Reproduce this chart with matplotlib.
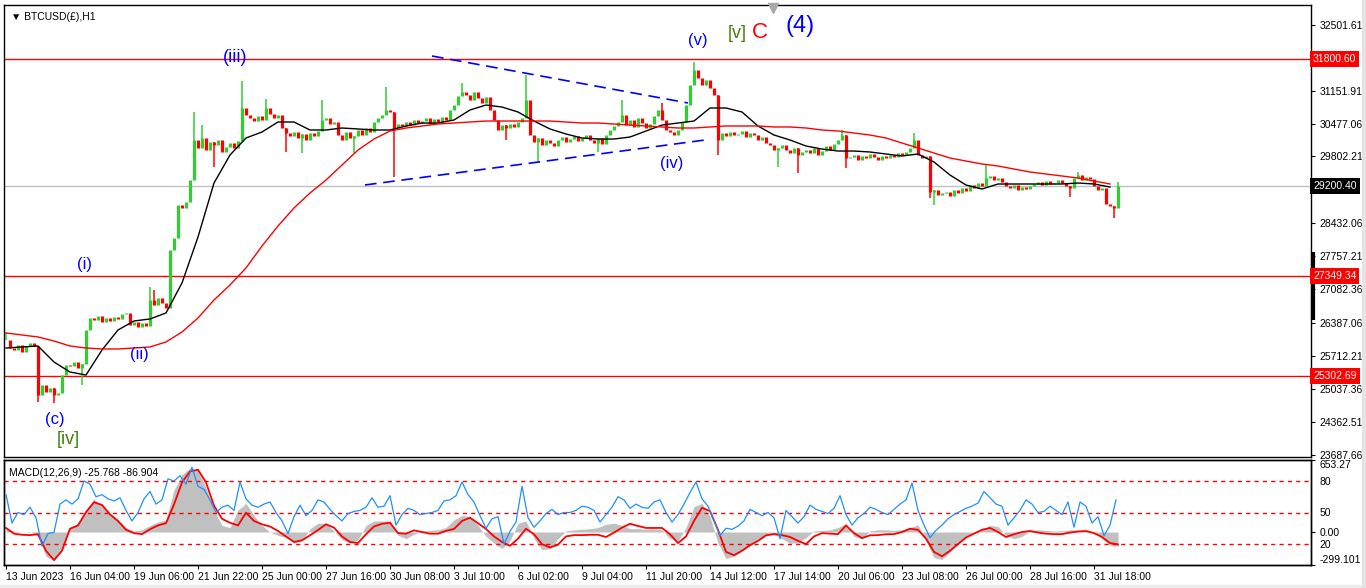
import matplotlib
matplotlib.use("Agg")
import matplotlib.pyplot as plt
import numpy as np
from matplotlib.transforms import blended_transform_factory
from matplotlib.patches import Rectangle

# -----------------------------
# Data read off the chart (H1 bars, sampled every 4 bars)
# -----------------------------
closes = [
    26040, 25876, 25835, 25937, 25794, 25917, 25978, 25917, 24912,
    25117, 24974, 25056, 24912, 24953, 25322, 25527,
    25507, 25589, 25466, 25548, 26245, 26491,
    26450, 26532, 26409, 26491, 26430, 26512, 26471, 26573, 26594,
    26347, 26409, 26307, 26389, 26327, 26860,
    26757, 26901, 26798, 26696, 27885, 28131, 28807, 28746, 28869, 29320, 30140,
    29976, 30181, 29935, 30099, 30037, 30140, 29894, 29996, 30078, 29976, 30119,
    30796, 30652, 30591, 30529, 30632, 30550, 30796, 30673, 30591, 30652,
    30386, 30283, 30222, 30304, 30181, 30263, 30140,
    30283, 30222, 30324, 30550, 30591, 30468, 30509,
    30242, 30140, 30304, 30181, 30222, 30345, 30242, 30386, 30304,
    30509, 30591, 30652, 30755, 30714, 30386,
    30468, 30427, 30509, 30447, 30550, 30488, 30529, 30591,
    30468, 30570, 30509, 30611, 30550, 30755, 30857, 31042, 31124,
    31062, 30960, 31124, 31001, 30898, 31021,
    30755, 30550, 30345, 30447, 30386, 30468, 30407, 30509, 30591,
    30960, 30242, 30099, 30181, 30037, 30140, 30078, 30017,
    30140, 30201, 30099, 30160, 30222, 30119, 30181, 30242,
    30140, 30078, 30181, 30058, 30242, 30345, 30427, 30509, 30652,
    30447, 30550, 30407, 30591, 30488, 30386,
    30468, 30632, 30755, 30550, 30345, 30304, 30242, 30345,
    30509, 30857, 31267, 31575, 31411, 31267, 31370, 31206, 31062, 30140,
    30283, 30222, 30304, 30242, 30263, 30324, 30201, 30283,
    30242, 30140, 30201, 30078, 30037, 29935, 29976,
    30037, 29935, 29873, 29976, 29832, 29894,
    29935, 29873, 29976, 29832, 29914, 30017, 29935, 30058, 30140, 30242, 29771,
    29791, 29832, 29730, 29812, 29771, 29853, 29791, 29730, 29812, 29771, 29832, 29791,
    29873, 29832, 29894, 29976, 30140, 29832, 29771, 29812, 29074,
    29115, 29012, 29053, 29074, 28992, 29115, 29053, 29156, 29094,
    29217, 29156, 29258, 29197, 29361, 29402, 29320, 29361, 29279,
    29197, 29156, 29217, 29115, 29176, 29135, 29197,
    29238, 29279, 29217, 29299, 29238, 29258, 29320, 29258, 29197,
    29156, 29361, 29422, 29320, 29381, 29340, 29197, 29115, 29156,
    28828, 28787, 28746, 29200,
]

# long wicks: sample index and the wick extreme
spike_bar = [0, 8, 12, 19, 36, 37, 47, 49, 52, 59, 65, 70, 74, 79, 87, 95, 97,
             114, 125, 130, 133, 148, 154, 164, 172, 178, 193, 198, 209, 210,
             227, 231, 232, 245, 266, 268, 277, 278]
spike_price = [26204, 24769, 24748, 25117, 27127, 27065, 30714, 30447, 29586,
               31350, 30980, 29894, 29873, 30960, 29873, 31227, 29381, 31308,
               30140, 31472, 29689, 29894, 30960, 30898, 31739, 29832, 29586,
               29463, 30345, 29566, 30283, 28951, 28807, 29627, 28971, 29484,
               28541, 29279]

# moving averages (every 16 bars)
black_ma = [
    25876, 25897, 25917, 25589, 25384, 25322, 25835, 26245, 26430, 26471,
    26594, 27209, 28152, 29258, 29832, 30181, 30304, 30509, 30509, 30345,
    30345, 30386, 30366, 30345, 30345, 30427, 30488, 30488, 30550, 30755,
    30857, 30816, 30714, 30529, 30366, 30263, 30181, 30160, 30160, 30201,
    30324, 30447, 30488, 30529, 30796, 30796, 30714, 30427, 30242, 30140,
    30017, 29955, 29914, 29914, 29894, 29853, 29812, 29853, 29689, 29422,
    29217, 29135, 29238, 29238, 29238, 29238, 29238, 29258, 29238, 29176,
]
red_ma = [
    26184, 26143, 26102, 26020, 25917, 25876, 25856, 25856, 25876, 25897,
    26000, 26204, 26491, 26860, 27168, 27516, 27967, 28377, 28746, 29053,
    29320, 29627, 29935, 30160, 30324, 30386, 30427, 30468, 30488, 30509,
    30529, 30529, 30529, 30529, 30529, 30509, 30488, 30488, 30468, 30447,
    30427, 30407, 30386, 30386, 30407, 30427, 30427, 30427, 30407, 30407,
    30386, 30345, 30324, 30283, 30242, 30181, 30078, 29976, 29873, 29771,
    29709, 29648, 29607, 29545, 29484, 29443, 29402, 29361, 29299, 29238,
]

# oscillator (0-100 scale, every 6 bars)
osc = [
    67, 40, 50, 48, 55, 45, 18, 30, 31, 58,
    62, 58, 63, 80, 77, 65, 67, 63, 61, 64,
    52, 42, 50, 63, 70, 58, 62, 82, 80, 85,
    77, 93, 75, 72, 62, 50, 55, 57, 52, 79,
    63, 57, 55, 58, 60, 50, 42, 30, 46, 57,
    47, 52, 62, 60, 53, 47, 42, 49, 51, 52,
    55, 64, 55, 56, 66, 38, 48, 54, 52, 48,
    49, 50, 52, 61, 62, 66, 79, 67, 60, 47,
    35, 44, 46, 20, 32, 41, 75, 45, 36, 42,
    49, 53, 48, 50, 50, 52, 56, 55, 52, 41,
    48, 55, 65, 62, 54, 58, 55, 54, 60, 62,
    50, 41, 48, 58, 69, 79, 63, 56, 42, 28,
    35, 34, 37, 42, 53, 50, 47, 50, 45, 25,
    52, 46, 40, 46, 57, 53, 51, 49, 54, 66,
    48, 38, 45, 49, 55, 53, 50, 48, 53, 58,
    62, 78, 52, 38, 26, 33, 38, 44, 48, 51,
    54, 56, 59, 70, 64, 58, 56, 38, 45, 52,
    62, 58, 50, 51, 56, 52, 48, 60, 36, 60,
    56, 40, 46, 28, 38, 62,
]

# MACD histogram and signal (every 8 bars)
macd_hist = [
    30, 10, 0, 5, -40, -220, -260, -150, 40, 80,
    200, 300, 240, 170, 110, 40, 10, 20, 60, 90,
    110, 380, 520, 580, 560, 400, 200, 60, 40, 200,
    260, 150, 60, 0, -30, -50, -100, -80, 30, 80,
    80, 10, -70, -100, -70, 60, 100, 100, 100, -30,
    -60, -20, 10, 15, 20, 40, 110, 150, 140, 60,
    -40, -100, -150, -80, 80, 100, -60, -160, -150, -60,
    10, 20, 25, 30, 40, 70, 80, 60, 30, 30,
    25, 30, 20, -60, -80, 40, 230, 260, 140, -100,
    -240, -220, -170, -120, -60, -30, -20, -60, -100, -100,
    -50, 10, 15, 20, 40, 75, -40, -60, 10, 20,
    20, 15, 20, 40, 65, -80, -230, -250, -180, -100,
    -40, 0, 20, 60, 50, -30, -60, -40, 10, 20,
    15, 10, 10, 20, 15, 10, 5, -60, -120, -130,
]
macd_signal = [
    37, -15, -25, -28, -20, -170, -255, -170, 30, 60,
    180, 270, 245, 160, 100, 20, -10, -19, 25, 60,
    80, 250, 450, 550, 565, 450, 240, 120, 84, 60,
    175, 100, 70, 50, 10, -40, -90, -75, -30, 18,
    70, 40, -40, -90, -100, -20, 50, 75, 84, -10,
    -15, 15, 0, -15, -15, 10, 28, 100, 130, 80,
    28, -40, -90, -125, -60, 30, -20, -110, -140, -115,
    -40, -28, -28, -25, -25, -45, -5, 40, 75, 55,
    37, 37, 37, -20, -100, -40, 100, 220, 190, 20,
    -180, -210, -170, -120, -80, -30, -19, -28, -45, -80,
    -110, -40, -10, -15, -19, 60, -10, -55, -30, -28,
    -20, -19, 0, 30, 20, -60, -180, -220, -170, -110,
    -50, -15, 20, 37, 0, -45, -20, 0, 9, -5,
    -15, -19, -19, -5, 5, 9, -10, -45, -100, -112,
]

price_ticks = [32501.61, 31151.91, 30477.06, 29802.21, 28432.06,
               27757.21, 27082.36, 26387.06, 25712.21, 25037.36, 24362.51,
               23687.66]
level_lines = [31800.60, 27349.34, 25302.69]
bid_price = 29200.40

date_labels = ["13 Jun 2023", "16 Jun 04:00", "19 Jun 06:00", "21 Jun 22:00",
               "25 Jun 00:00", "27 Jun 16:00", "30 Jun 08:00", "3 Jul 10:00",
               "6 Jul 02:00", "9 Jul 04:00", "11 Jul 20:00", "14 Jul 12:00",
               "17 Jul 14:00", "20 Jul 06:00", "23 Jul 08:00", "26 Jul 00:00",
               "28 Jul 16:00", "31 Jul 18:00"]

# trendlines (bar, price)
upper_trend = [(426, 31862), (682, 30899)]
lower_trend = [(359, 29218), (699, 30140)]

# wave labels: text, bar, price, colour, size
wave_labels = [
    ("(iii)", 229, 31821, "#0000ff", 13),
    ("(i)", 78, 27598, "#0000ff", 12),
    ("(ii)", 133, 25753, "#0000ff", 12),
    ("(c)", 49, 24420, "#0000ff", 12),
    ("[iv]", 62, 24010, "#3f7f0a", 13),
    ("(iv)", 666, 29668, "#0000ff", 12),
    ("(v)", 692, 32190, "#0000ff", 12),
    ("[v]", 731, 32333, "#3f7f0a", 13),
    ("C", 754, 32354, "#ff0000", 16),
    ("(4)", 794, 32477, "#0000ff", 17),
]

# -----------------------------
# Figure layout (MT4 style)
# -----------------------------
plt.rcParams["font.family"] = ["Liberation Sans", "DejaVu Sans"]
W, H = 1366, 588
fig = plt.figure(figsize=(W / 100, H / 100), dpi=100)

left, right = 4, 1311
ax = fig.add_axes([left / W, 1 - 457 / H, (right - left) / W, 452 / H])
axm = fig.add_axes([left / W, 1 - 565 / H, (right - left) / W, 105 / H])
axh = axm.twinx()

x_min, x_max = -2, 1305
for a in (ax, axm, axh):
    a.set_xlim(x_min, x_max)
ax.set_ylim(23641.5, 32907.5)

green = "#32cd32"
red = "#ff0000"

# -----------------------------
# Price bars
# -----------------------------
closes = np.array(closes, dtype=float)
bars = np.arange(len(closes)) * 4
opens = np.concatenate([[closes[0]], closes[:-1]])
up = closes >= opens
lo = np.minimum(opens, closes)
hi = np.maximum(opens, closes)

ax.vlines(bars[up], lo[up], hi[up], color=green, lw=2.3, zorder=3)
ax.vlines(bars[~up], lo[~up], hi[~up], color=red, lw=2.3, zorder=3)
for k, p in zip(spike_bar, spike_price):
    col = green if up[k] else red
    ax.vlines(bars[k], min(p, lo[k]), max(p, hi[k]), color=col, lw=1.1, zorder=3)

ax.plot(np.arange(len(black_ma)) * 16, black_ma, color="black", lw=1.0, zorder=4)
ax.plot(np.arange(len(red_ma)) * 16, red_ma, color=red, lw=1.0, zorder=4)

for lv in level_lines:
    ax.axhline(lv, color=red, lw=1.0, zorder=2)
ax.axhline(bid_price, color="#c0c0c0", lw=1.0, zorder=1)

for seg in (upper_trend, lower_trend):
    xs, ys = zip(*seg)
    ax.plot(xs, ys, color="#0000ff", lw=1.2, dashes=(7, 4), zorder=4)

for txt, bx, py, col, size in wave_labels:
    ax.text(bx, py, txt, color=col, fontsize=size, ha="center", va="center",
            zorder=5)

ax.text(0.005, 0.985, "\u25bc BTCUSD(\u00a3),H1", transform=ax.transAxes,
        fontsize=7.5, va="top", ha="left")
ax.plot([767], [0.993], marker="v", ms=7, color="#a8a8a8",
        transform=blended_transform_factory(ax.transData, ax.transAxes),
        clip_on=False, zorder=6)

ax.yaxis.tick_right()
ax.set_yticks(price_ticks)
ax.set_yticklabels([f"{v:.2f}" for v in price_ticks])
ax.tick_params(axis="y", labelsize=7.5, length=3, pad=3, direction="out")
ax.set_xticks([])

trans = blended_transform_factory(ax.transAxes, ax.transData)
for lv in level_lines:
    ax.text(1.0016, lv, f"{lv:.2f}", transform=trans, ha="left", va="center",
            fontsize=7.5, color="white", zorder=7,
            bbox=dict(boxstyle="square,pad=0.28", fc=red, ec="none"))
ax.text(1.0016, bid_price, f"{bid_price:.2f}", transform=trans, ha="left",
        va="center", fontsize=7.5, color="white", zorder=7,
        bbox=dict(boxstyle="square,pad=0.28", fc="black", ec="none"))
# scroll marker on the price scale
ax.plot([1.0015, 1.0015], [0.303, 0.4535], transform=ax.transAxes,
        color="black", lw=3, clip_on=False, solid_capstyle="butt")

# -----------------------------
# MACD panel
# -----------------------------
axh.set_ylim(-299.101, 653.27)
hx = np.arange(len(macd_hist)) * 8
axh.fill_between(hx, 0, macd_hist, color="#c0c0c0", lw=0, zorder=1)
axh.plot(np.arange(len(macd_signal)) * 8, macd_signal, color=red, lw=1.3, zorder=3)
axh.set_yticks([653.27, 0, -299.101])
axh.set_yticklabels(["653.27", "0.00", "-299.101"])
axh.tick_params(axis="y", labelsize=7.5, length=3, pad=3)
labs = axh.get_yticklabels()
labs[0].set_va("top")
labs[2].set_va("bottom")

axm.set_ylim(0, 100)
axm.set_zorder(axh.get_zorder() + 1)
axm.patch.set_visible(False)
for lv in (80, 50, 20):
    axm.axhline(lv, color=red, lw=1.0, dashes=(3, 3), zorder=2)
axm.plot(np.arange(len(osc)) * 6, osc, color="#1e90ff", lw=0.9, zorder=3)
axm.yaxis.tick_right()
axm.set_yticks([80, 50, 20])
axm.tick_params(axis="y", labelsize=7.5, length=0, pad=6)
axm.text(0.004, 0.92, "MACD(12,26,9) -25.768 -86.904", transform=axm.transAxes,
         fontsize=7.5, va="top", ha="left")

axm.set_xticks(np.arange(len(date_labels)) * 64)
axm.set_xticklabels(date_labels, ha="left")
axm.tick_params(axis="x", labelsize=7.5, length=3, pad=2, direction="out")
axh.tick_params(axis="x", bottom=False, labelbottom=False)

for a in (ax, axm, axh):
    for s in a.spines.values():
        s.set_color("black")
        s.set_linewidth(1.0)

fig.patches.append(Rectangle((0, 0), 1, 3 / H, transform=fig.transFigure,
                             color="#ececec", zorder=0))
fig.patches.append(Rectangle((1362 / W, 0), 4 / W, 1, transform=fig.transFigure,
                             color="#e4e4e4", zorder=0))

fig.savefig("out.png", dpi=100)
